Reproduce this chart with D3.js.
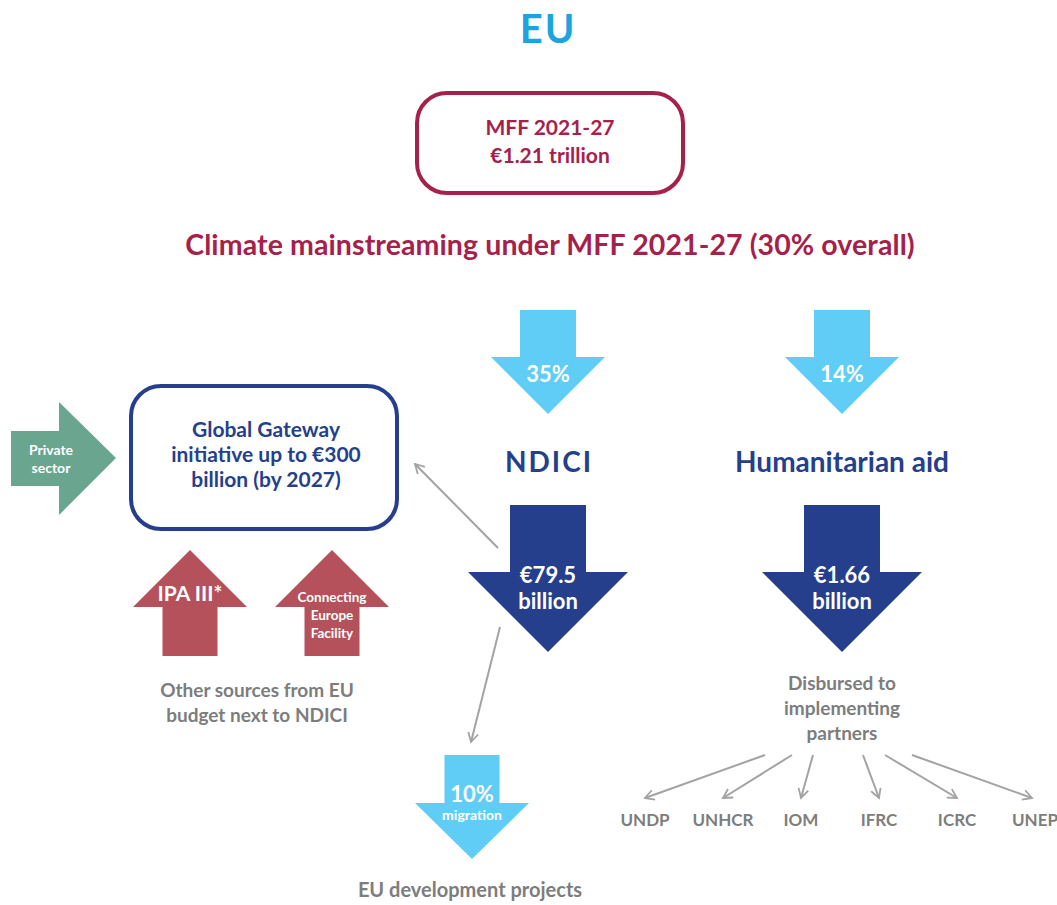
<!DOCTYPE html>
<html lang="en">
  <head>
    <meta charset="UTF-8" />
    <title>EU climate finance flows</title>
    <style>
      body { margin: 0; background: #fff; }
      svg text { font-family: Lato, 'Open Sans', sans-serif; font-weight: bold; }
    </style>
  </head>
  <body>
    <script src="https://cdn.jsdelivr.net/npm/d3@7"></script>
    <script>
      // Data
      const programmes = ['NDICI', 'Humanitarian aid'];
      const climateShares = ['35%', '14%'];
      const amounts = [['€79.5', 'billion'], ['€1.66', 'billion']];
      const otherSources = [['IPA III*'], ['Connecting', 'Europe', 'Facility']];
      const partners = ['UNDP', 'UNHCR', 'IOM', 'IFRC', 'ICRC', 'UNEP'];
      const mffLines = ['MFF 2021-27', '€1.21 trillion'];
      const gatewayLines = ['Global Gateway', 'initiative up to €300', 'billion (by 2027)'];

      const width = 1057;
      const height = 905;
      const col = {
        lightBlue: '#5fcdf6', navy: '#253f8d', crimson: '#a6214a',
        green: '#6aa590', rose: '#b5515b', grey: '#7d7d7d', line: '#a3a3a3'
      };

      const svg = d3.select('body').append('svg')
        .attr('width', width).attr('height', height);

      svg.append('defs').append('marker')
        .attr('id', 'open')
        .attr('viewBox', '0 0 12 12')
        .attr('refX', 10).attr('refY', 6)
        .attr('markerWidth', 12).attr('markerHeight', 12)
        .attr('markerUnits', 'userSpaceOnUse')
        .attr('orient', 'auto')
        .append('path')
        .attr('d', 'M1,1 L10,6 L1,11')
        .attr('fill', 'none').attr('stroke', col.line).attr('stroke-width', 1.8);

      // column positions
      const xCol = d3.scalePoint().domain(programmes).range([548, 842]);
      const xPartner = d3.scalePoint().domain(partners).range([645, 1035]);
      const xSource = d3.scalePoint().domain(otherSources.map((d) => d[0])).range([190, 332]);
      // where the partner arrows leave the "partners" label
      const partnerStart = d3.scaleOrdinal().domain(partners).range([765, 792, 813, 863, 885, 912]);

      // down arrow path
      const downArrow = (cx, top, shaftW, headY, headW, tipY) => {
        const p = d3.path();
        p.moveTo(cx - shaftW / 2, top);
        p.lineTo(cx + shaftW / 2, top);
        p.lineTo(cx + shaftW / 2, headY);
        p.lineTo(cx + headW / 2, headY);
        p.lineTo(cx, tipY);
        p.lineTo(cx - headW / 2, headY);
        p.lineTo(cx - shaftW / 2, headY);
        p.closePath();
        return p.toString();
      };

      const lines = (g, arr, x, y0, dy, size, fill) => {
        g.append('text')
          .attr('x', x).attr('y', y0)
          .attr('text-anchor', 'middle')
          .attr('font-size', size)
          .attr('fill', fill)
          .selectAll('tspan')
          .data(arr)
          .join('tspan')
          .attr('x', x)
          .attr('dy', (d, i) => (i === 0 ? 0 : dy))
          .text((d) => d);
      };

      // Title
      svg.append('text').text('EU')
        .attr('x', 548).attr('y', 43)
        .attr('text-anchor', 'middle')
        .attr('font-size', 40).attr('letter-spacing', 2)
        .attr('fill', '#1ba5de');

      // MFF box
      svg.append('rect')
        .attr('x', 417).attr('y', 93).attr('width', 266).attr('height', 100)
        .attr('rx', 30).attr('fill', 'none')
        .attr('stroke', col.crimson).attr('stroke-width', 4);
      lines(svg, mffLines, 550, 135, 28, 21, col.crimson);

      svg.append('text')
        .text('Climate mainstreaming under MFF 2021-27 (30% overall)')
        .attr('x', 550).attr('y', 255)
        .attr('text-anchor', 'middle')
        .attr('font-size', 28.5).attr('letter-spacing', 0.1).attr('fill', col.crimson);

      // Light blue share arrows
      programmes.forEach((p, i) => {
        const cx = xCol(p);
        svg.append('path')
          .attr('d', downArrow(cx, 310, 56, 357, 114, 414))
          .attr('fill', col.lightBlue);
        svg.append('text').text(climateShares[i])
          .attr('x', cx).attr('y', 382)
          .attr('text-anchor', 'middle')
          .attr('font-size', 22).attr('fill', '#fff');
        svg.append('text').text(p)
          .attr('x', cx + (i === 0 ? 1 : 0)).attr('y', 472)
          .attr('text-anchor', 'middle')
          .attr('font-size', 28)
          .attr('letter-spacing', i === 0 ? 2 : 0)
          .attr('fill', col.navy);
        svg.append('path')
          .attr('d', downArrow(cx, 505, 76, 572, 160, 652))
          .attr('fill', col.navy);
        lines(svg, amounts[i], cx, 583, 26, 22, '#fff');
      });

      // Global Gateway box
      svg.append('rect')
        .attr('x', 131).attr('y', 386).attr('width', 266).attr('height', 143)
        .attr('rx', 30).attr('fill', 'none')
        .attr('stroke', col.navy).attr('stroke-width', 4);
      lines(svg, gatewayLines, 266, 437, 25, 21, col.navy);

      // Private sector arrow
      const ps = d3.path();
      ps.moveTo(11, 431); ps.lineTo(59, 431); ps.lineTo(59, 402);
      ps.lineTo(116, 458); ps.lineTo(59, 515); ps.lineTo(59, 486);
      ps.lineTo(11, 486); ps.closePath();
      svg.append('path').attr('d', ps.toString()).attr('fill', col.green);
      lines(svg, ['Private', 'sector'], 51, 455, 18, 14, '#fff');

      // Other EU sources (up arrows)
      otherSources.forEach((s) => {
        const cx = xSource(s[0]);
        const p = d3.path();
        p.moveTo(cx - 27.5, 656); p.lineTo(cx + 27.5, 656); p.lineTo(cx + 27.5, 607);
        p.lineTo(cx + 57, 607); p.lineTo(cx, 550); p.lineTo(cx - 57, 607);
        p.lineTo(cx - 27.5, 607); p.closePath();
        svg.append('path').attr('d', p.toString()).attr('fill', col.rose);
        if (s.length === 1) lines(svg, s, cx, 601, 0, 21, '#fff');
        else lines(svg, s, cx, 602, 18, 13.5, '#fff');
      });
      lines(svg, ['Other sources from EU', 'budget next to NDICI'], 257, 697, 25, 19, col.grey);

      // Grey connector lines
      const connectors = [
        [498, 548, 415, 464],
        [500, 627, 471, 742]
      ];
      partners.forEach((p, i) => {
        const tx = xPartner(p) + (i === partners.length - 1 ? -3 : 0);
        connectors.push([partnerStart(p), 755, tx, 798]);
      });
      svg.selectAll('line.conn')
        .data(connectors)
        .join('line')
        .attr('class', 'conn')
        .attr('x1', (d) => d[0]).attr('y1', (d) => d[1])
        .attr('x2', (d) => d[2]).attr('y2', (d) => d[3])
        .attr('stroke', col.line).attr('stroke-width', 2)
        .attr('marker-end', 'url(#open)');

      // Migration arrow
      svg.append('path')
        .attr('d', downArrow(472, 755, 55, 803, 114, 859))
        .attr('fill', col.lightBlue);
      svg.append('text').text('10%')
        .attr('x', 472).attr('y', 802).attr('text-anchor', 'middle')
        .attr('font-size', 22).attr('fill', '#fff');
      svg.append('text').text('migration')
        .attr('x', 472).attr('y', 820).attr('text-anchor', 'middle')
        .attr('font-size', 14).attr('fill', '#fff');
      svg.append('text').text('EU development projects')
        .attr('x', 470).attr('y', 897).attr('text-anchor', 'middle')
        .attr('font-size', 20).attr('fill', col.grey);

      // Humanitarian partners
      lines(svg, ['Disbursed to', 'implementing', 'partners'], 842, 690, 25, 19, col.grey);
      svg.selectAll('text.partner')
        .data(partners)
        .join('text')
        .attr('class', 'partner')
        .attr('x', (d) => xPartner(d))
        .attr('y', 826)
        .attr('text-anchor', 'middle')
        .attr('font-size', 17)
        .attr('fill', col.grey)
        .text((d) => d);
    </script>
  </body>
</html>
